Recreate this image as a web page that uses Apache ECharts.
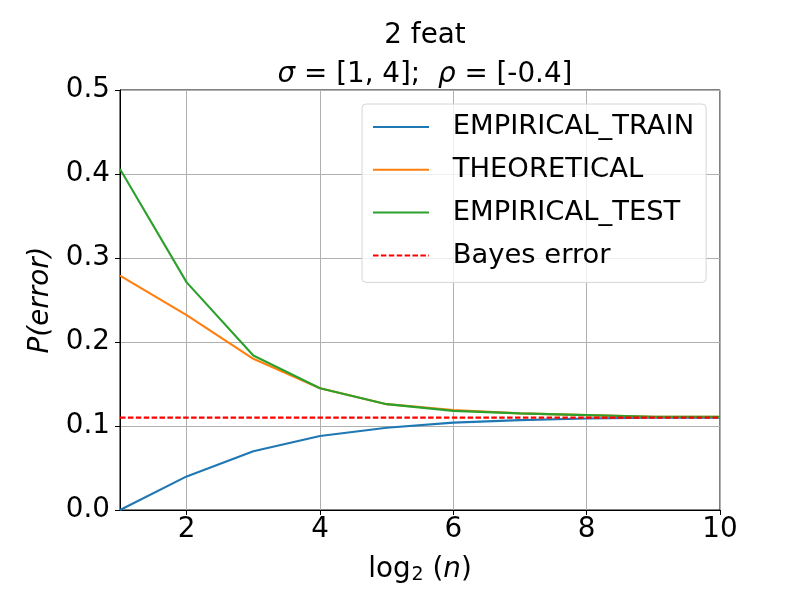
<!DOCTYPE html>
<html>
<head>
<meta charset="utf-8">
<script src="https://cdn.jsdelivr.net/npm/echarts@6/dist/echarts.min.js"></script>
<style>
  html, body { margin: 0; padding: 0; background: #fff; }
  #chart { width: 800px; height: 600px; }
</style>
</head>
<body>
<div id="chart"></div>
<script>
// log2(n) on the x axis
var logN = [1, 2, 3, 4, 5, 6, 7, 8, 9, 10];
var empiricalTrain = [0.000, 0.040, 0.070, 0.088, 0.098, 0.104, 0.107, 0.109, 0.110, 0.110];
var theoretical = [0.279, 0.232, 0.180, 0.145, 0.126, 0.119, 0.115, 0.113, 0.111, 0.111];
var empiricalTest = [0.406, 0.271, 0.184, 0.145, 0.126, 0.118, 0.115, 0.113, 0.111, 0.111];
var bayesError = 0.11;
var xTicks = [2, 4, 6, 8, 10];

var font = 'DejaVu Sans';
var fs = 27.8;

function pairs(ys) {
  return logN.map(function (x, i) { return [x, ys[i]]; });
}

var chart = echarts.init(document.getElementById('chart'));

var option = {
  animation: false,
  backgroundColor: '#fff',
  textStyle: { fontFamily: font, color: '#000' },
  title: {
    left: 420,
    textAlign: 'center',
    top: 11,
    text: '{n|2 feat}\n{i|σ}{n| = [1, 4];  }{i|ρ}{n| = [-0.4]}',
    textStyle: {
      fontWeight: 'normal',
      rich: {
        n: { fontFamily: font, fontSize: fs, fontWeight: 'normal', color: '#000', lineHeight: 39 },
        i: { fontFamily: font, fontSize: fs, fontWeight: 'normal', color: '#000', fontStyle: 'italic', lineHeight: 39 }
      }
    }
  },
  grid: {
    left: 120, right: 80, top: 90, bottom: 90,
    show: true, borderColor: '#000', borderWidth: 1, backgroundColor: 'transparent'
  },
  legend: {
    orient: 'vertical',
    left: 362,
    top: 104,
    padding: [8, 12, 12, 10],
    itemGap: 12.8,
    itemWidth: 56,
    itemHeight: 14,
    backgroundColor: 'rgba(255,255,255,0.8)',
    borderColor: '#d6d6d6',
    borderWidth: 1,
    borderRadius: 4,
    itemStyle: { opacity: 0 },
    textStyle: { fontFamily: font, fontSize: 27.4, color: '#000', padding: [0, 0, 0, 18.7], lineHeight: 30 },
    data: ['EMPIRICAL_TRAIN', 'THEORETICAL', 'EMPIRICAL_TEST', 'Bayes error']
  },
  xAxis: {
    type: 'value',
    min: 1,
    max: 10,
    name: '{n|log}{s|2}{n| (}{i|n}{n|)}',
    nameLocation: 'middle',
    nameGap: 44,
    nameTextStyle: {
      rich: {
        n: { fontFamily: font, fontSize: fs, color: '#000' },
        i: { fontFamily: font, fontSize: fs, color: '#000', fontStyle: 'italic' },
        s: { fontFamily: font, fontSize: 19, color: '#000', verticalAlign: 'bottom', padding: [12, 0, 0, 1] }
      }
    },
    axisLine: { show: true, onZero: false, lineStyle: { color: '#000', width: 1 } },
    axisTick: { show: true, customValues: xTicks, length: 5, lineStyle: { color: '#000' } },
    axisLabel: { customValues: xTicks, fontFamily: font, fontSize: fs, color: '#000', margin: 6 },
    splitLine: { show: true, lineStyle: { color: '#b0b0b0', width: 1 } }
  },
  yAxis: {
    type: 'value',
    min: 0,
    max: 0.5,
    interval: 0.1,
    name: '{i|P(error)}',
    nameLocation: 'middle',
    nameGap: 59,
    nameRotate: 90,
    nameTextStyle: {
      rich: {
        i: { fontFamily: font, fontSize: fs, color: '#000', fontStyle: 'italic' }
      }
    },
    axisLine: { show: true, lineStyle: { color: '#000', width: 1 } },
    axisTick: { show: true, length: 5, lineStyle: { color: '#000' } },
    axisLabel: {
      fontFamily: font, fontSize: fs, color: '#000', margin: 10,
      formatter: function (v) { return v.toFixed(1); }
    },
    splitLine: { show: true, lineStyle: { color: '#b0b0b0', width: 1 } }
  },
  series: [
    {
      name: 'EMPIRICAL_TRAIN', type: 'line', data: pairs(empiricalTrain),
      symbol: 'none', color: '#1f77b4', lineStyle: { width: 2.1, color: '#1f77b4' }
    },
    {
      name: 'THEORETICAL', type: 'line', data: pairs(theoretical),
      symbol: 'none', color: '#ff7f0e', lineStyle: { width: 2.1, color: '#ff7f0e' }
    },
    {
      name: 'EMPIRICAL_TEST', type: 'line', data: pairs(empiricalTest),
      symbol: 'none', color: '#2ca02c', lineStyle: { width: 2.1, color: '#2ca02c' }
    },
    {
      name: 'Bayes error', type: 'line',
      data: logN.map(function (x) { return [x, bayesError]; }),
      symbol: 'none', color: '#ff0000', lineStyle: { width: 2.1, color: '#ff0000', type: [5.5, 2.4] }
    }
  ]
};

chart.setOption(option);
</script>
</body>
</html>
